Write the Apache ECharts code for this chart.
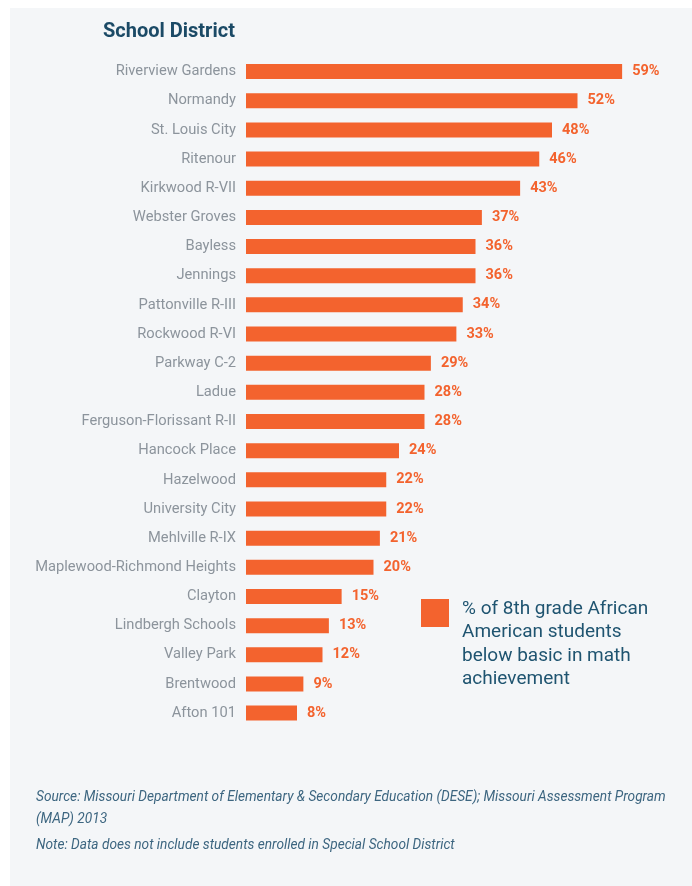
<!DOCTYPE html>
<html><head><meta charset="utf-8">
<script src="https://cdn.jsdelivr.net/npm/echarts@6/dist/echarts.min.js"></script>
<style>html,body{margin:0;padding:0;background:#fff}#c{width:692px;height:886px}</style>
</head><body><div id="c"></div>
<script>
const categories = ["Riverview Gardens","Normandy","St. Louis City","Ritenour","Kirkwood R-VII","Webster Groves","Bayless","Jennings","Pattonville R-III","Rockwood R-VI","Parkway C-2","Ladue","Ferguson-Florissant R-II","Hancock Place","Hazelwood","University City","Mehlville R-IX","Maplewood-Richmond Heights","Clayton","Lindbergh Schools","Valley Park","Brentwood","Afton 101"];
const values = [59,52,48,46,43,37,36,36,34,33,29,28,28,24,22,22,21,20,15,13,12,9,8];
const seriesName = "% of 8th grade African American students below basic in math achievement";
const titleText = "School District";
const sourceLines = ["Source: Missouri Department of Elementary & Secondary Education (DESE); Missouri Assessment Program","(MAP) 2013"];
const noteText = "Note: Data does not include students enrolled in Special School District";

const orange = "#f3632e";
const chart = echarts.init(document.getElementById('c'));
chart.setOption({
  backgroundColor: '#ffffff',
  animation: false,
  grid: {left: 246, top: 57, width: 382.5, height: 670.7, containLabel: false},
  xAxis: {type: 'value', min: 0, max: 60, show: false},
  yAxis: {
    type: 'category', data: categories, inverse: true,
    axisLine: {show: false}, axisTick: {show: false}, splitLine: {show: false},
    axisLabel: {color: '#8c949c', fontFamily: 'Roboto', fontSize: 14.7, margin: 10}
  },
  series: [{
    type: 'bar', name: seriesName, data: values, barWidth: 15,
    itemStyle: {color: orange},
    label: {show: true, position: 'right', distance: 10, formatter: '{c}%',
      color: orange, fontFamily: 'Roboto', fontWeight: 'bold', fontSize: 14.5}
  }],
  graphic: [
    {type: 'rect', z: -10, shape: {x: 10, y: 8, width: 682, height: 878}, style: {fill: '#f4f6f8'}},
    {type: 'text', left: 103, top: 22, style: {text: titleText, fill: '#1b4a66', font: 'bold 20px Roboto'}},
    {type: 'rect', shape: {x: 421, y: 599, width: 28, height: 28}, style: {fill: orange}},
    {type: 'text', left: 462, top: 597, style: {text: "% of 8th grade African\nAmerican students\nbelow basic in math\nachievement", fill: '#1f5470', font: '19px Roboto', lineHeight: 23.5}},
    {type: 'text', left: 36, top: 787, style: {text: sourceLines.join('\n'), fill: '#3d6680', font: 'italic 13.7px Roboto', lineHeight: 22}},
    {type: 'text', left: 36, top: 839, style: {text: noteText, fill: '#3d6680', font: 'italic 13.7px Roboto'}}
  ]
});
</script></body></html>
